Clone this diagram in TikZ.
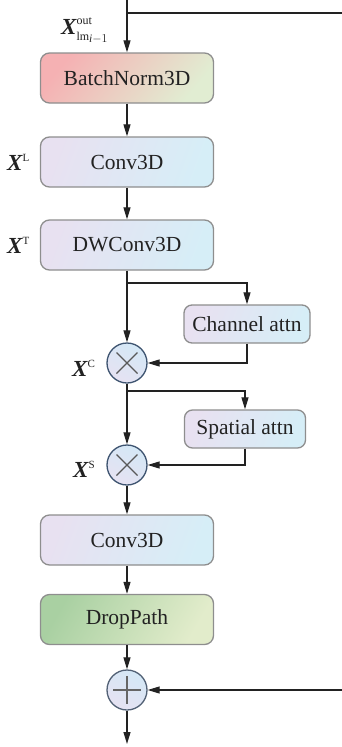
\documentclass[tikz,border=0pt]{standalone}
\usepackage{amsmath}
\usepackage{fontspec}
\setmainfont{Liberation Serif}
\usetikzlibrary{arrows.meta,calc}

\definecolor{ink}{HTML}{222222}
\definecolor{boxline}{HTML}{8E8E8E}
\definecolor{opline}{HTML}{3E5470}
\definecolor{bnA}{HTML}{F5B1B3}
\definecolor{bnB}{HTML}{E1EDD2}
\definecolor{cvA}{HTML}{E8E1F1}
\definecolor{cvB}{HTML}{D6EEF7}
\definecolor{dpA}{HTML}{A9D0A2}
\definecolor{dpB}{HTML}{E2ECCB}
\definecolor{opA}{HTML}{D4E8F6}
\definecolor{opB}{HTML}{E6E2F2}

\newcommand{\bx}{{\bfseries\itshape X}}

\tikzset{
  every node/.style={text=ink},
  block/.style={draw=boxline, line width=1.3pt, rounded corners=9pt,
    minimum width=173pt, minimum height=50pt, font=\fontsize{21.5}{24}\selectfont},
  attnbox/.style={block, rounded corners=8pt, minimum height=38pt},
  bnfill/.style={top color=bnA, bottom color=bnB, shading angle=50},
  cvfill/.style={top color=cvA, bottom color=cvB, shading angle=70},
  dpfill/.style={top color=dpA, bottom color=dpB, shading angle=60},
  opnode/.style={circle, draw=opline, line width=1.3pt, minimum size=40pt,
    inner sep=0pt, top color=opA, bottom color=opB, shading angle=-30},
  arr/.style={-{Triangle[length=12pt,width=7pt]}, draw=ink, line width=1.2pt},
  wire/.style={draw=ink, line width=1.2pt},
  sym/.style={font=\fontsize{23}{24}\selectfont, inner sep=0pt},
}

\begin{document}
\begin{tikzpicture}[x=1pt, y=-1pt]
\useasboundingbox (0,0) rectangle (342,747);

% processing chain
\node[block, bnfill] (bn) at (127,78) {BatchNorm3D};
\node[block, cvfill] (cva) at (127,162) {Conv3D};
\node[block, cvfill] (dw) at (127,245) {DWConv3D};
\node[opnode] (mc) at (127,363) {};
\node[attnbox, cvfill, minimum width=126pt] (ca) at (247,324) {Channel attn};
\node[opnode] (ms) at (127,465) {};
\node[attnbox, cvfill, minimum width=121pt] (sa) at (245,429) {Spatial attn};
\node[block, cvfill] (cvb) at (127,540) {Conv3D};
\node[block, dpfill] (dp) at (127,619.5) {DropPath};
\node[opnode, draw=opline!70!gray] (add) at (127,690) {};

% operator glyphs
\foreach \n in {mc,ms}{
  \draw[draw=black!65, line width=1.2pt]
    ($(\n)+(-10.5,-10.5)$) -- ($(\n)+(10.5,10.5)$)
    ($(\n)+(-10.5,10.5)$) -- ($(\n)+(10.5,-10.5)$);
}
\draw[draw=black!60, line width=1.2pt]
  ($(add)+(-14,0)$) -- ($(add)+(14,0)$)
  ($(add)+(0,-14)$) -- ($(add)+(0,14)$);

% free ends and branch points
\coordinate (in) at (127,0);
\coordinate (skipin) at (127,13);
\coordinate (skipout) at (342,13);
\coordinate (skipback) at (342,690);
\coordinate (out) at (127,744);
\coordinate (bca) at (127,283);
\coordinate (bsa) at (127,391);

% connectors
\draw[arr] (in) -- (bn.north);
\draw[wire] (skipin) -- (skipout);
\draw[arr] (bn) -- (cva);
\draw[arr] (cva) -- (dw);
\draw[arr] (dw) -- (mc);
\draw[arr] (bca) -| (ca.north);
\draw[arr] (ca.south) |- (mc.east);
\draw[arr] (mc) -- (ms);
\draw[arr] (bsa) -| (sa.north);
\draw[arr] (sa.south) |- (ms.east);
\draw[arr] (ms) -- (cvb);
\draw[arr] (cvb) -- (dp);
\draw[arr] (dp) -- (add);
\draw[arr] (skipback) -- (add.east);
\draw[arr] (add) -- (out);

% tensor labels
\node[sym, anchor=west] (lin) at (61,31)
  {\bx$^{\text{\fontsize{12}{12}\selectfont out}}_{\text{\fontsize{12}{12}\selectfont lm}_{\textit{i}-1}}$};
\node[sym, anchor=west] (ll) at (7,162) {\bx\textsuperscript{\fontsize{11}{11}\selectfont L}};
\node[sym, anchor=west] (lt) at (7,245) {\bx\textsuperscript{\fontsize{11}{11}\selectfont T}};
\node[sym, anchor=west] (lc) at (72,368) {\bx\textsuperscript{\fontsize{11}{11}\selectfont C}};
\node[sym, anchor=west] (ls) at (73,469) {\bx\textsuperscript{\fontsize{11}{11}\selectfont S}};
\end{tikzpicture}
\end{document}
